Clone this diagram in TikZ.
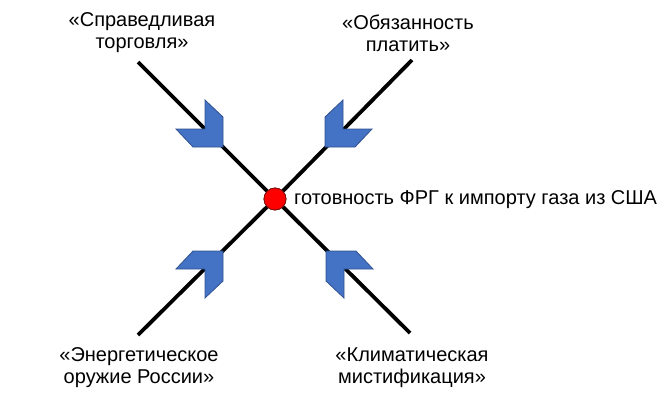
\documentclass[tikz,border=0pt]{standalone}
\usepackage{fontspec}
\setmainfont{Liberation Sans}
\definecolor{chevfill}{HTML}{4472C4}
\definecolor{chevline}{HTML}{2F528F}
\definecolor{dotred}{HTML}{FF0000}
\definecolor{dotline}{HTML}{7F1010}
\begin{document}
\begin{tikzpicture}[x=1pt,y=-1pt,
  axisline/.style={line width=3.8pt,black},
  chevron/.style={fill=chevfill,draw=chevline,line width=0.8pt,line join=miter},
  lbl/.style={font=\fontsize{20}{22}\selectfont,align=center,inner sep=0pt},
  hub/.style={circle,fill=dotred,draw=dotline,line width=0.8pt,minimum size=22pt,inner sep=0pt}]
\useasboundingbox (0,0) rectangle (672,402);
\node[hub] (c) at (275,199) {};
\coordinate (tl) at (138,62);
\coordinate (tr) at (412,60);
\coordinate (bl) at (138,335);
\coordinate (br) at (410,333);
\draw[axisline] (tl) -- (c.center);
\draw[axisline] (tr) -- (c.center);
\draw[axisline] (bl) -- (c.center);
\draw[axisline] (br) -- (c.center);
% chevrons
\begin{scope}[shift={(223,147)}]
\draw[chevron] (-18,-47) -- (0,-30) -- (0,0) -- (-30,0) -- (-47,-18) -- (-18,-18) -- cycle;
\end{scope}
\begin{scope}[shift={(325,147)},xscale=-1]
\draw[chevron] (-18,-47) -- (0,-30) -- (0,0) -- (-30,0) -- (-47,-18) -- (-18,-18) -- cycle;
\end{scope}
\begin{scope}[shift={(223,251)},yscale=-1]
\draw[chevron] (-18,-47) -- (0,-30) -- (0,0) -- (-30,0) -- (-47,-18) -- (-18,-18) -- cycle;
\end{scope}
\begin{scope}[shift={(326,251)},xscale=-1,yscale=-1]
\draw[chevron] (-18,-47) -- (0,-30) -- (0,0) -- (-30,0) -- (-47,-18) -- (-18,-18) -- cycle;
\end{scope}
\node[hub] (c2) at (c) {};
\node[lbl] (t1) at (142,33) {«Справедливая\\торговля»};
\node[lbl] (t2) at (408,33) {«Обязанность\\платить»};
\node[lbl] (t3) at (139,368) {«Энергетическое\\оружие России»};
\node[lbl] (t4) at (412,368) {«Климатическая\\мистификация»};
\node[font=\fontsize{20}{22}\selectfont,anchor=west,inner sep=0pt] (goal) at (294,200) {готовность ФРГ к импорту газа из США};
\end{tikzpicture}
\end{document}
